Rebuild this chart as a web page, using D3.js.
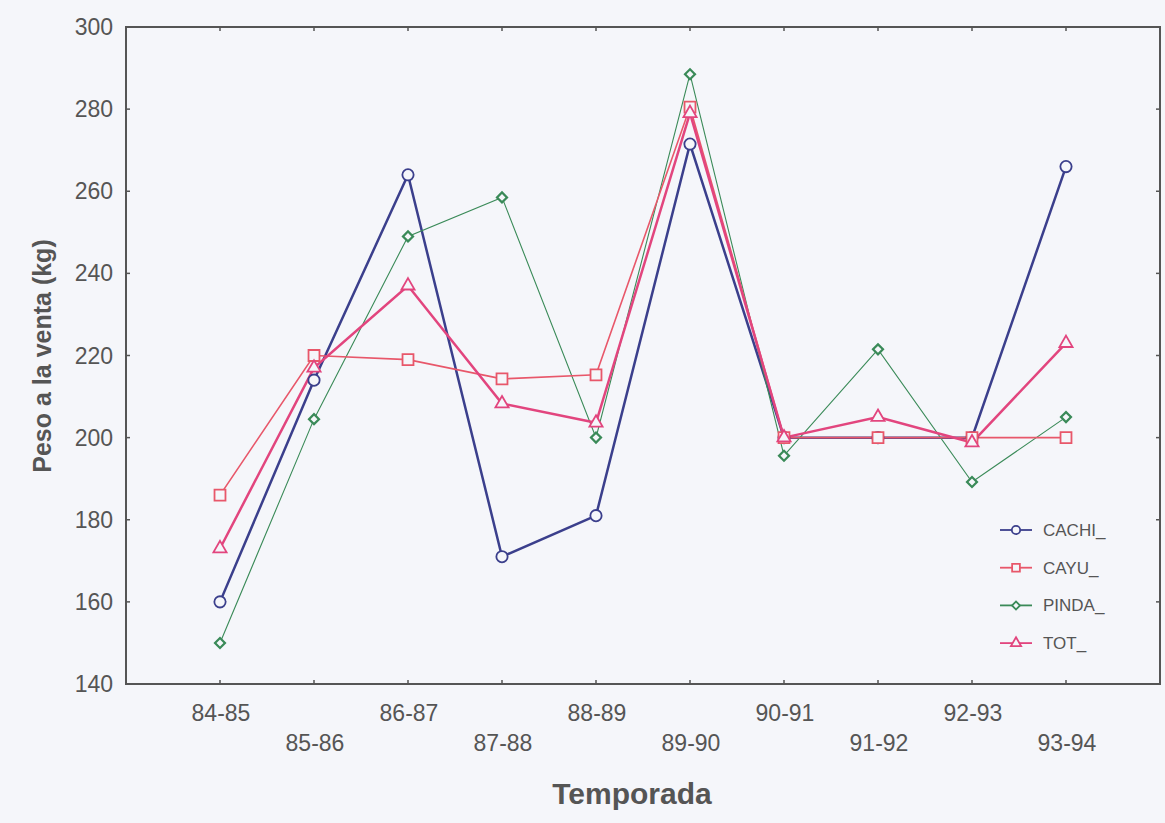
<!DOCTYPE html>
<html lang="es">
<head>
<meta charset="utf-8">
<title>Peso a la venta por temporada</title>
<script src="https://d3js.org/d3.v7.min.js"></script>
<style>
  body { margin: 0; background: #f5f6fa; }
  svg { display: block; }
  .tick-label { font-family: "Liberation Sans", Arial, sans-serif; font-size: 23px; fill: #555; }
  .title { font-family: "Liberation Sans", Arial, sans-serif; font-weight: bold; fill: #555; }
  .legend text { font-family: "Liberation Sans", Arial, sans-serif; font-size: 17px; fill: #555; }
</style>
</head>
<body>
<script>
// seasons on x axis
const seasons = ["84-85", "85-86", "86-87", "87-88", "88-89", "89-90", "90-91", "91-92", "92-93", "93-94"];
const yTicks = [140, 160, 180, 200, 220, 240, 260, 280, 300];

// values
const cachi = [160, 214, 264, 171, 181, 271.5, 200, 200, 200, 266];
const cayu  = [186, 220, 219, 214.3, 215.3, 280.5, 200, 200, 200, 200];
const pinda = [150, 204.5, 249, 258.5, 200, 288.5, 195.6, 221.5, 189.2, 205];
const tot   = [173, 217, 237, 208.3, 203.6, 279, 200, 205, 198.8, 223];

const width = 1165, height = 823;
const plotLeft = 126, plotRight = 1160, plotTop = 27, plotBottom = 684;

const svg = d3.select("body").append("svg")
  .attr("width", width).attr("height", height);

svg.append("rect").attr("width", width).attr("height", height).attr("fill", "#f5f6fa");

const x = d3.scaleLinear().domain([-1, seasons.length]).range([plotLeft, plotRight]);
const y = d3.scaleLinear().domain([140, 300]).range([plotBottom, plotTop]);

// frame
svg.append("rect")
  .attr("x", plotLeft).attr("y", plotTop)
  .attr("width", plotRight - plotLeft).attr("height", plotBottom - plotTop)
  .attr("fill", "none").attr("stroke", "#555").attr("stroke-width", 2);

// inner ticks on all four sides
const tickLen = 4;
const tg = svg.append("g").attr("stroke", "#555").attr("stroke-width", 1.5);
seasons.forEach((s, i) => {
  tg.append("line").attr("x1", x(i)).attr("x2", x(i)).attr("y1", plotBottom).attr("y2", plotBottom - tickLen);
  tg.append("line").attr("x1", x(i)).attr("x2", x(i)).attr("y1", plotTop).attr("y2", plotTop + tickLen);
});
yTicks.forEach(v => {
  tg.append("line").attr("x1", plotLeft).attr("x2", plotLeft + tickLen).attr("y1", y(v)).attr("y2", y(v));
  tg.append("line").attr("x1", plotRight).attr("x2", plotRight - tickLen).attr("y1", y(v)).attr("y2", y(v));
});

// y labels
svg.selectAll(".ylab").data(yTicks).enter().append("text")
  .attr("class", "tick-label")
  .attr("x", plotLeft - 13).attr("y", d => y(d) + 8)
  .attr("text-anchor", "end")
  .text(d => d);

// x labels, staggered in two rows
svg.selectAll(".xlab").data(seasons).enter().append("text")
  .attr("class", "tick-label")
  .attr("x", (d, i) => x(i) + 1).attr("y", (d, i) => i % 2 === 0 ? 721 : 751)
  .attr("text-anchor", "middle")
  .text(d => d);

// axis titles
svg.append("text").attr("class", "title")
  .attr("x", 632).attr("y", 804).attr("text-anchor", "middle")
  .style("font-size", "30px")
  .text("Temporada");
svg.append("text").attr("class", "title")
  .attr("transform", "translate(51,356) rotate(-90)")
  .attr("text-anchor", "middle")
  .style("font-size", "25px")
  .text("Peso a la venta (kg)");

const series = [
  { name: "CACHI_", values: cachi, color: "#3b3f8c", width: 2.5, shape: "circle" },
  { name: "PINDA_", values: pinda, color: "#3a8a58", width: 1.1, shape: "diamond" },
  { name: "CAYU_",  values: cayu,  color: "#e8576a", width: 1.6, shape: "square" },
  { name: "TOT_",   values: tot,   color: "#e2457e", width: 2.5, shape: "triangle" }
];

// diamond = square turned 45 degrees
const symbolTypes = {
  circle: d3.symbolCircle, square: d3.symbolSquare,
  diamond: d3.symbolSquare, triangle: d3.symbolTriangle
};
const markSize = { circle: 100, square: 120, diamond: 50, triangle: 75 };
const legendSize = { circle: 55, square: 60, diamond: 32, triangle: 45 };
const rot = shape => shape === "diamond" ? " rotate(45)" : "";

const line = d3.line().x((d, i) => x(i)).y(d => y(d));

series.forEach(s => {
  svg.append("path")
    .attr("d", line(s.values))
    .attr("fill", "none")
    .attr("stroke", s.color)
    .attr("stroke-width", s.width);
});
series.forEach(s => {
  const sym = d3.symbol().type(symbolTypes[s.shape]).size(markSize[s.shape]);
  svg.selectAll(null).data(s.values).enter().append("path")
    .attr("d", sym)
    .attr("transform", (d, i) => "translate(" + x(i) + "," + y(d) + ")" + rot(s.shape))
    .attr("fill", "#f5f6fa")
    .attr("stroke", s.color)
    .attr("stroke-width", s.shape === "diamond" ? 2.2 : 1.8);
});

// legend
const legendOrder = ["CACHI_", "CAYU_", "PINDA_", "TOT_"];
const lg = svg.append("g").attr("class", "legend");
legendOrder.forEach((name, k) => {
  const s = series.find(d => d.name === name);
  const ly = 530 + k * 37.7;
  lg.append("line").attr("x1", 1000).attr("x2", 1032).attr("y1", ly).attr("y2", ly)
    .attr("stroke", s.color).attr("stroke-width", 1.8);
  lg.append("path").attr("d", d3.symbol().type(symbolTypes[s.shape]).size(legendSize[s.shape])())
    .attr("transform", "translate(1016," + ly + ")" + rot(s.shape))
    .attr("fill", "#f5f6fa").attr("stroke", s.color).attr("stroke-width", 1.8);
  lg.append("text").attr("x", 1043).attr("y", ly + 6).text(name);
});
</script>
</body>
</html>
